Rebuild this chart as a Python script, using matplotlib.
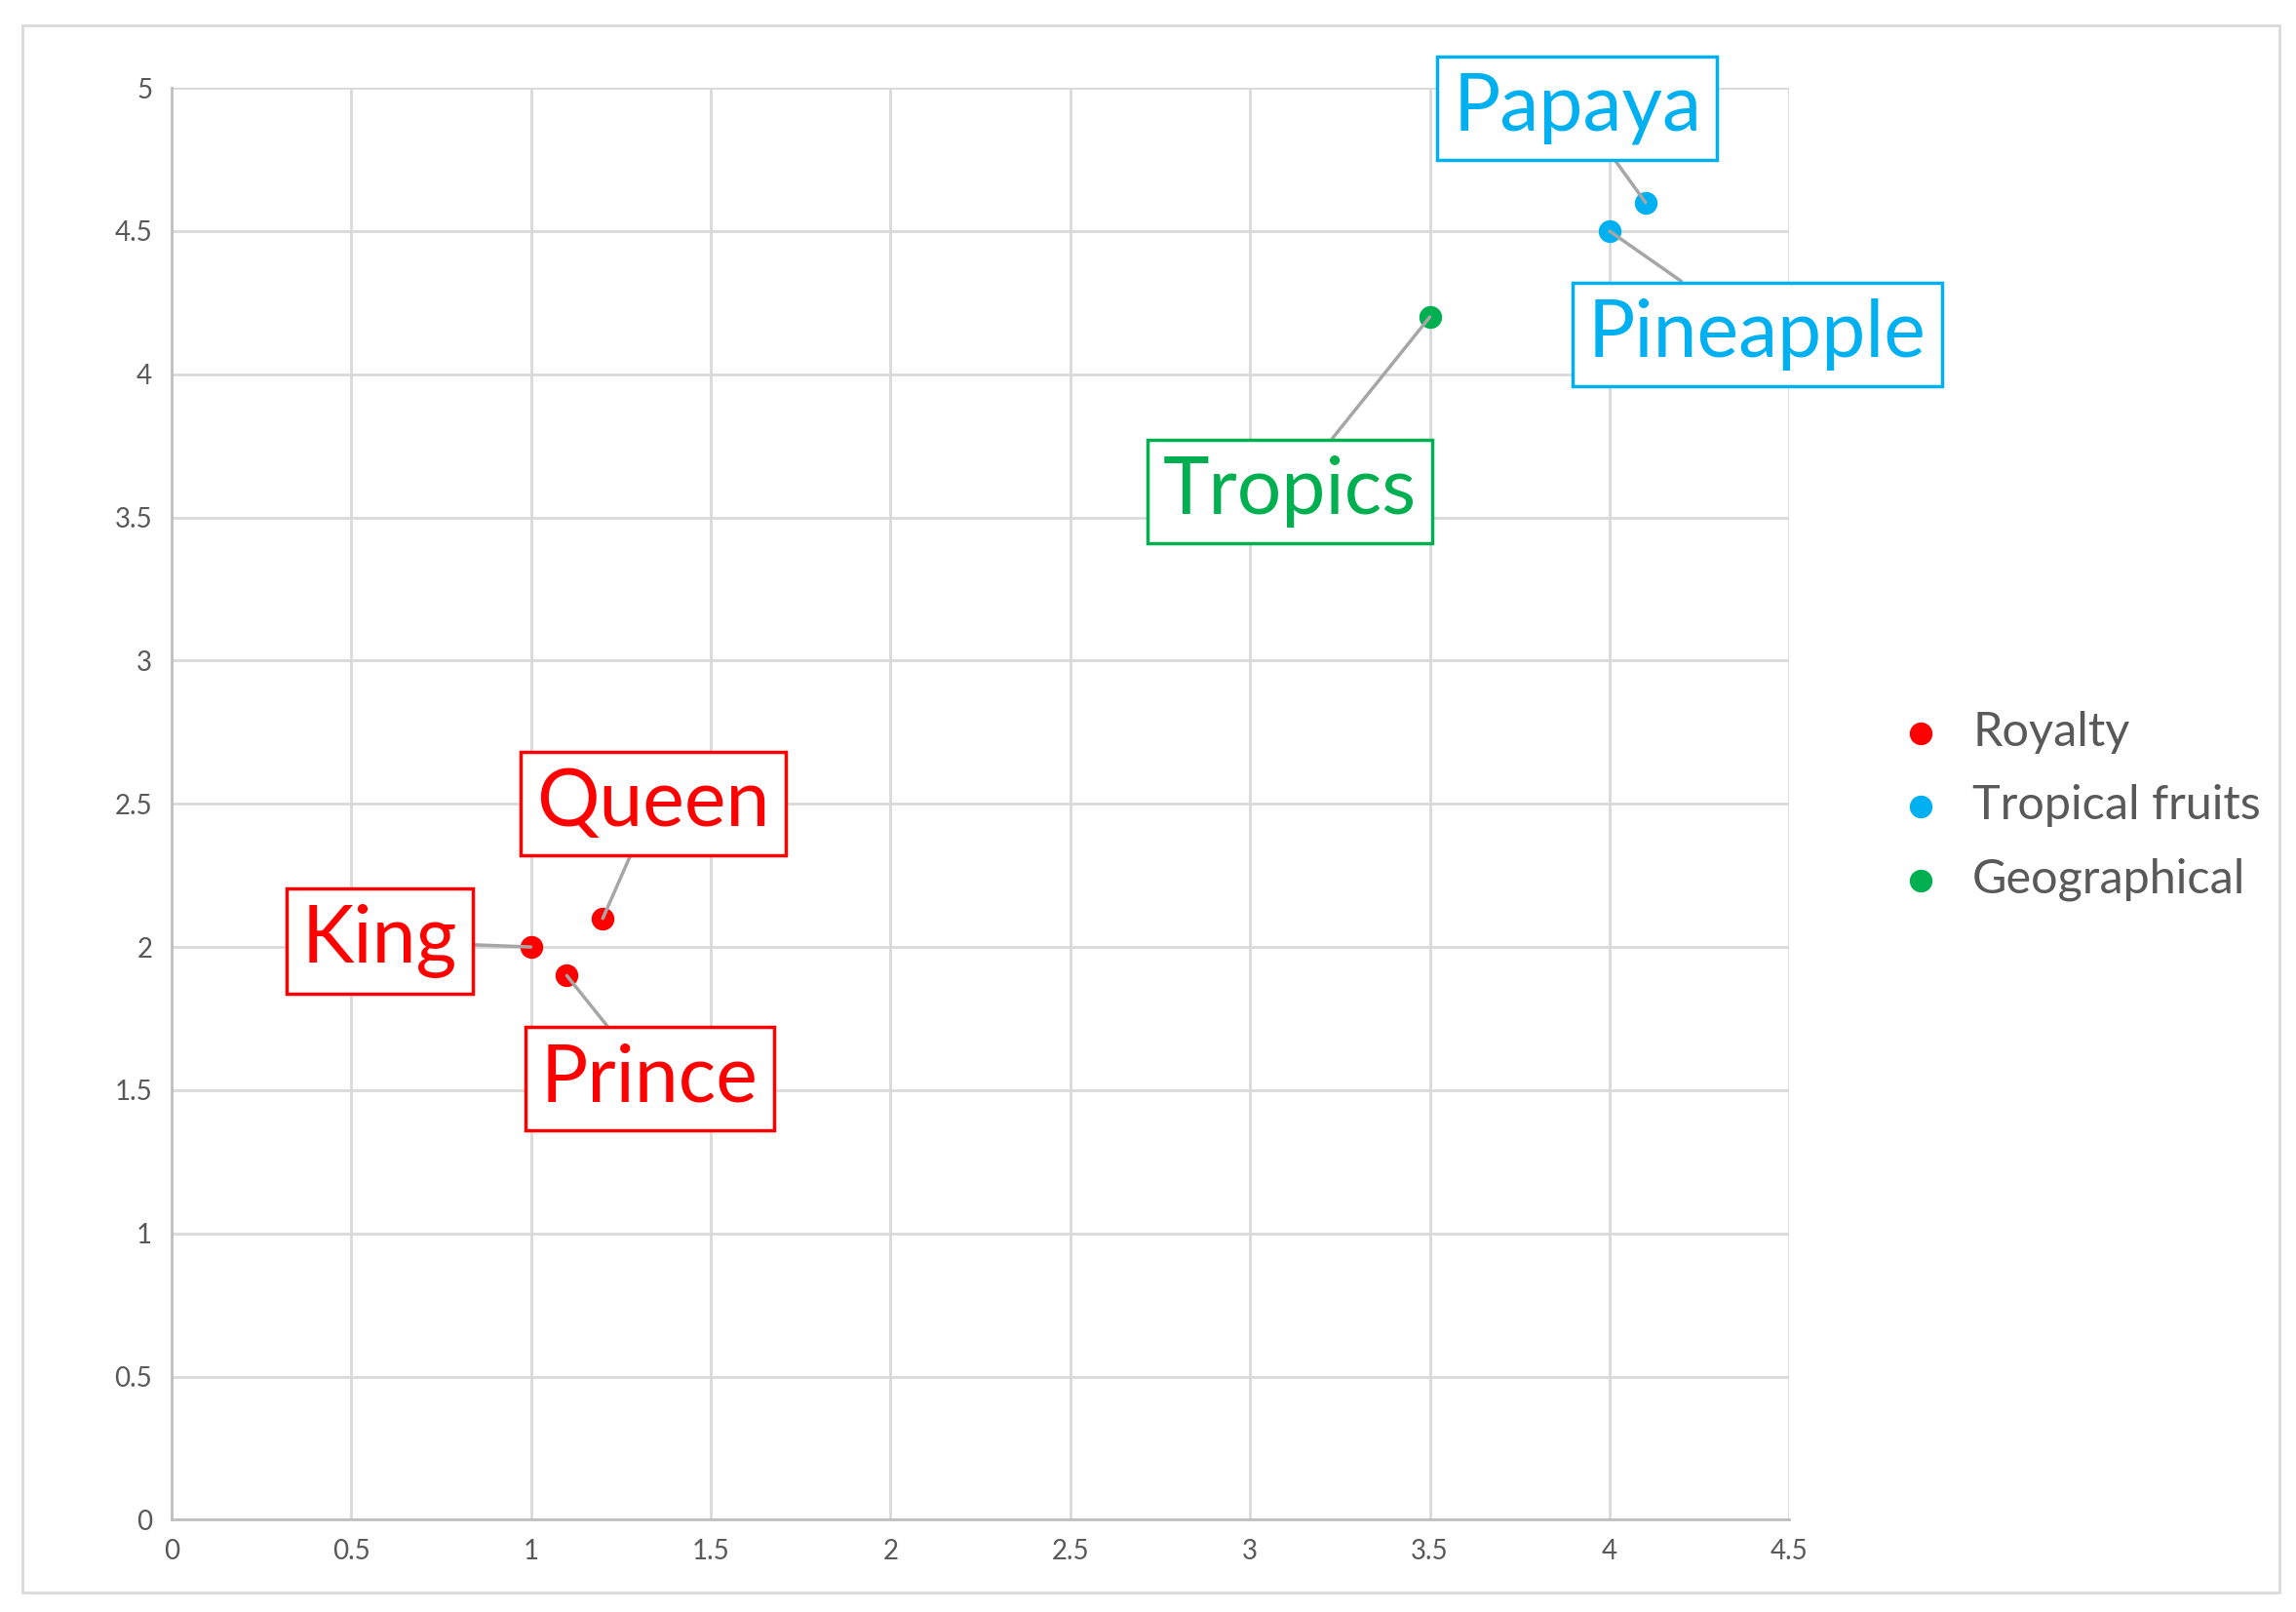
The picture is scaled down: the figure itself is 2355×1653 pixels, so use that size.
import matplotlib
matplotlib.use("Agg")
import matplotlib.pyplot as plt
from matplotlib.patches import Rectangle

series = ["Royalty", "Tropical fruits", "Geographical"]
colors = ["#FF0000", "#00B0F0", "#00B050"]
words = [["King", "Prince", "Queen"], ["Papaya", "Pineapple"], ["Tropics"]]
xs = [[1.0, 1.1, 1.2], [4.1, 4.0], [3.5]]
ys = [[2.0, 1.9, 2.1], [4.6, 4.5], [4.2]]
label_pos = {"King": (0.58, 2.02), "Prince": (1.33, 1.54), "Queen": (1.34, 2.5),
             "Papaya": (3.91, 4.93), "Pineapple": (4.41, 4.14), "Tropics": (3.11, 3.59)}

plt.rcParams['font.family'] = ['Lato', 'DejaVu Sans']
fig = plt.figure(figsize=(23.55, 16.53), dpi=100)
fig.patches.append(Rectangle((15/1568, 1-1087/1100), (1557-15)/1568, (1087-17)/1100,
                             transform=fig.transFigure, fill=False, ec="#D9D9D9", lw=2))
ax = fig.add_axes([117/1568, 1-1037/1100, (1222-117)/1568, (1037-60)/1100])
ax.set_xlim(0, 4.5); ax.set_ylim(0, 5)
ax.set_xticks([i*0.5 for i in range(10)]); ax.set_yticks([i*0.5 for i in range(11)])
ax.set_xticklabels(["0","0.5","1","1.5","2","2.5","3","3.5","4","4.5"])
ax.set_yticklabels(["0","0.5","1","1.5","2","2.5","3","3.5","4","4.5","5"])
ax.grid(True, color="#D9D9D9", lw=2)
ax.tick_params(length=0, labelsize=20, labelcolor="#595959", pad=14)
for s in ["top", "right"]:
    ax.spines[s].set_visible(False)
for s in ["left", "bottom"]:
    ax.spines[s].set_color("#BFBFBF"); ax.spines[s].set_linewidth(2)
ax.set_axisbelow(True)

for name, c, w, x, y in zip(series, colors, words, xs, ys):
    ax.scatter(x, y, s=250, color=c, label=name, zorder=3)
    for wd, xi, yi in zip(w, x, y):
        ax.annotate(wd, (xi, yi), xytext=label_pos[wd], ha="center", va="center",
                    fontsize=58, color=c,
                    bbox=dict(boxstyle="square,pad=0.2", fc="white", ec=c, lw=2.5),
                    arrowprops=dict(arrowstyle="-", color="#A6A6A6", lw=2.5,
                                    shrinkA=0, shrinkB=0), zorder=4)

leg = fig.legend(loc="center left", bbox_to_anchor=(1250/1568, 1-550/1100), frameon=False,
                 fontsize=35, handletextpad=0.1, labelspacing=0.65, markerscale=1.0)
for t in leg.get_texts():
    t.set_color("#595959")
fig.savefig("out.png", dpi=100)
